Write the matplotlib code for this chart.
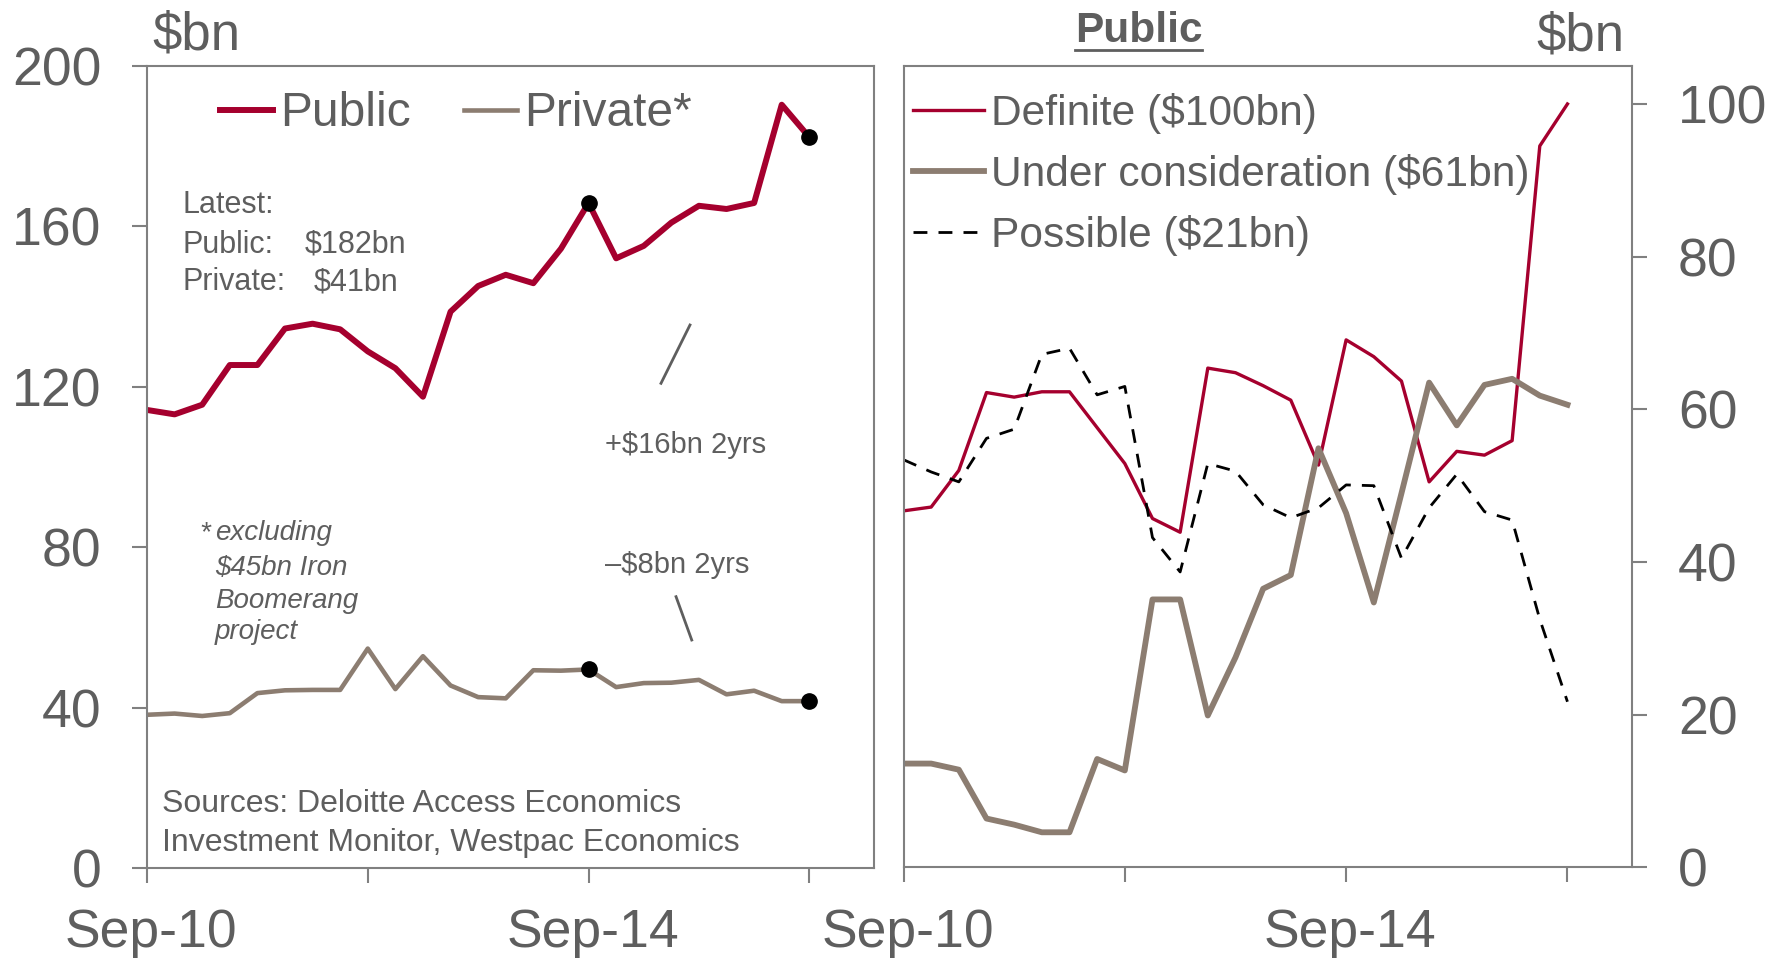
import numpy as np
import pandas as pd
import matplotlib
matplotlib.use("Agg")
import matplotlib.pyplot as plt
from matplotlib.lines import Line2D
from matplotlib.transforms import IdentityTransform, ScaledTranslation

plt.rcParams['font.family'] = ['Liberation Sans', 'DejaVu Sans']

# ---------------- data ----------------
quarters = pd.period_range('2010Q3', '2016Q3', freq='Q')
x_labels = ['Sep-10', '', 'Sep-14', '']

public = [114.2, 113.1, 115.5, 125.4, 125.4, 134.5, 135.7, 134.3, 128.8, 124.6,
          117.5, 138.7, 145.1, 147.9, 145.8, 154.4, 165.8, 152.0, 155.1, 160.9,
          165.1, 164.3, 165.8, 190.3, 182.2]
private = [38.2, 38.5, 37.9, 38.6, 43.6, 44.3, 44.4, 44.4, 54.7, 44.6,
           52.8, 45.5, 42.6, 42.3, 49.3, 49.2, 49.5, 45.1, 46.1, 46.2,
           46.9, 43.3, 44.2, 41.6, 41.6]

definite = [46.7, 47.2, 52.0, 62.2, 61.6, 62.3, 62.3, 57.6, 52.9, 45.7,
            43.9, 65.4, 64.8, 63.1, 61.2, 52.7, 69.1, 66.9, 63.7, 50.5,
            54.5, 54.0, 55.9, 94.5, 100.0]
under_consideration = [13.6, 13.6, 12.8, 6.4, 5.6, 4.6, 4.6, 14.2, 12.7, 35.1,
                       35.1, 19.9, 27.5, 36.5, 38.3, 54.9, 46.4, 34.7, 49.0, 63.5,
                       57.9, 63.2, 64.0, 61.8, 60.6]
possible = [53.4, 51.8, 50.5, 56.2, 57.4, 67.2, 68.0, 61.9, 63.0, 43.2,
            38.7, 52.9, 51.9, 47.5, 45.8, 47.1, 50.1, 50.0, 40.5, 47.1,
            51.5, 46.6, 45.5, 32.5, 21.7]

marked_quarters = ['2014Q3', '2016Q3']

# months since Sep-10
start = quarters[0]
xm = np.array([(q - start).n * 3 for q in quarters])
mark_idx = [list(quarters.astype(str)).index(q) for q in marked_quarters]

RED = '#A5002E'
TAUPE = '#8C7D71'
TXT = '#5E5E5E'
SPINE = '#808080'

fig = plt.figure(figsize=(17.79, 9.59), dpi=100)
W, H = 1779, 959
axL = fig.add_axes([147 / W, (H - 868) / H, 726.7 / W, 802.2 / H])
axR = fig.add_axes([903.5 / W, (H - 867.4) / H, 728.5 / W, 801.6 / H])

shift = ScaledTranslation(4 / 100, 0, fig.dpi_scale_trans)
for ax in (axL, axR):
    for s in ax.spines.values():
        s.set_color(SPINE)
        s.set_linewidth(1.5)
    ax.set_xlim(0, 79)
    ax.set_xticks([0, 24, 48, 72])
    ax.set_xticklabels(x_labels)
    ax.tick_params(axis='both', colors=SPINE, labelcolor=TXT, labelsize=38.5,
                   length=11, width=1.5, direction='out')
    ax.tick_params(axis='x', pad=18)
    for lab in ax.get_xticklabels():
        lab.set_transform(lab.get_transform() + shift)

# ---------------- left panel ----------------
axL.set_ylim(0, 200)
axL.set_yticks([0, 40, 80, 120, 160, 200])
axL.tick_params(axis='y', pad=22)
axL.plot(xm, public, color=RED, lw=4.3, label='Public')
axL.plot(xm, private, color=TAUPE, lw=3.3, label='Private*')
axL.plot(xm[mark_idx], np.array(public)[mark_idx], 'o', color='black', ms=11, zorder=5)
axL.plot(xm[mark_idx], np.array(private)[mark_idx], 'o', color='black', ms=11, zorder=5)

axL.legend(loc='center left', bbox_to_anchor=(0.1002, 0.940), ncol=2, frameon=False,
           fontsize=34.5, handlelength=1.11, handletextpad=0.15, columnspacing=1.10,
           borderpad=0, borderaxespad=0, labelcolor=TXT)

axL.text(0.0078, 1.0206, '$bn', transform=axL.transAxes, fontsize=38, color=TXT,
         ha='left', va='baseline')

for lab, y in zip(['Latest:', 'Public:', 'Private:'], [0.8161, 0.7670, 0.7205]):
    axL.text(0.0491, y, lab, transform=axL.transAxes, fontsize=22, color=TXT, va='baseline')
axL.text(0.2174, 0.7670, '$182bn', transform=axL.transAxes, fontsize=22, color=TXT, va='baseline')
axL.text(0.2298, 0.7205, '$41bn', transform=axL.transAxes, fontsize=22, color=TXT, va='baseline')

axL.text(0.6302, 0.5173, '+$16bn 2yrs', transform=axL.transAxes, fontsize=21, color=TXT, va='baseline')
axL.text(0.6302, 0.3674, '\u2013$8bn 2yrs', transform=axL.transAxes, fontsize=21, color=TXT, va='baseline')
axL.plot([0.7472, 0.7073], [0.6769, 0.6042], transform=axL.transAxes, color=TXT, lw=2)
axL.plot([0.7280, 0.7496], [0.3382, 0.2842], transform=axL.transAxes, color=TXT, lw=2)

axL.text(0.0724, 0.4085, '*', transform=axL.transAxes, fontsize=20, color=TXT,
         style='italic', va='baseline')
for lab, y in zip(['excluding', '$45bn Iron', 'Boomerang', 'project'],
                  [0.4085, 0.3657, 0.3237, 0.2855]):
    axL.text(0.0935, y, lab, transform=axL.transAxes, fontsize=20, color=TXT,
             style='italic', va='baseline')

axL.text(0.0202, 0.0701, 'Sources: Deloitte Access Economics', transform=axL.transAxes,
         fontsize=23, color=TXT, va='baseline')
axL.text(0.0202, 0.0208, 'Investment Monitor, Westpac Economics', transform=axL.transAxes,
         fontsize=23, color=TXT, va='baseline')

# ---------------- right panel ----------------
axR.set_ylim(0, 105)
axR.set_yticks([0, 20, 40, 60, 80, 100])
axR.yaxis.tick_right()
axR.tick_params(axis='y', pad=22)
axR.plot(xm, definite, color=RED, lw=2.4, label='Definite ($100bn)')
axR.plot(xm, under_consideration, color=TAUPE, lw=4.2, label='Under consideration ($61bn)')
axR.plot(xm, possible, color='black', lw=2.0, dashes=(5, 4), label='Possible ($21bn)')

axR.legend(loc='center left', bbox_to_anchor=(0.0126, 0.864), frameon=False,
           fontsize=30.6, handlelength=1.67, handletextpad=0.17, labelspacing=0.47,
           borderpad=0, borderaxespad=0, labelcolor=TXT)

axR.text(0.990, 1.019, '$bn', transform=axR.transAxes, fontsize=38, color=TXT,
         ha='right', va='baseline')
title = axR.text(0.3227, 1.030, 'Public', transform=axR.transAxes, fontsize=30.5,
                 fontweight='bold', color=TXT, ha='center', va='baseline')

fig.canvas.draw()
bb = title.get_window_extent()
uy = H - 50
fig.add_artist(Line2D([bb.x0, bb.x1], [uy, uy], transform=IdentityTransform(),
                      color=TXT, lw=2.0))

fig.savefig('out.png', dpi=100)
